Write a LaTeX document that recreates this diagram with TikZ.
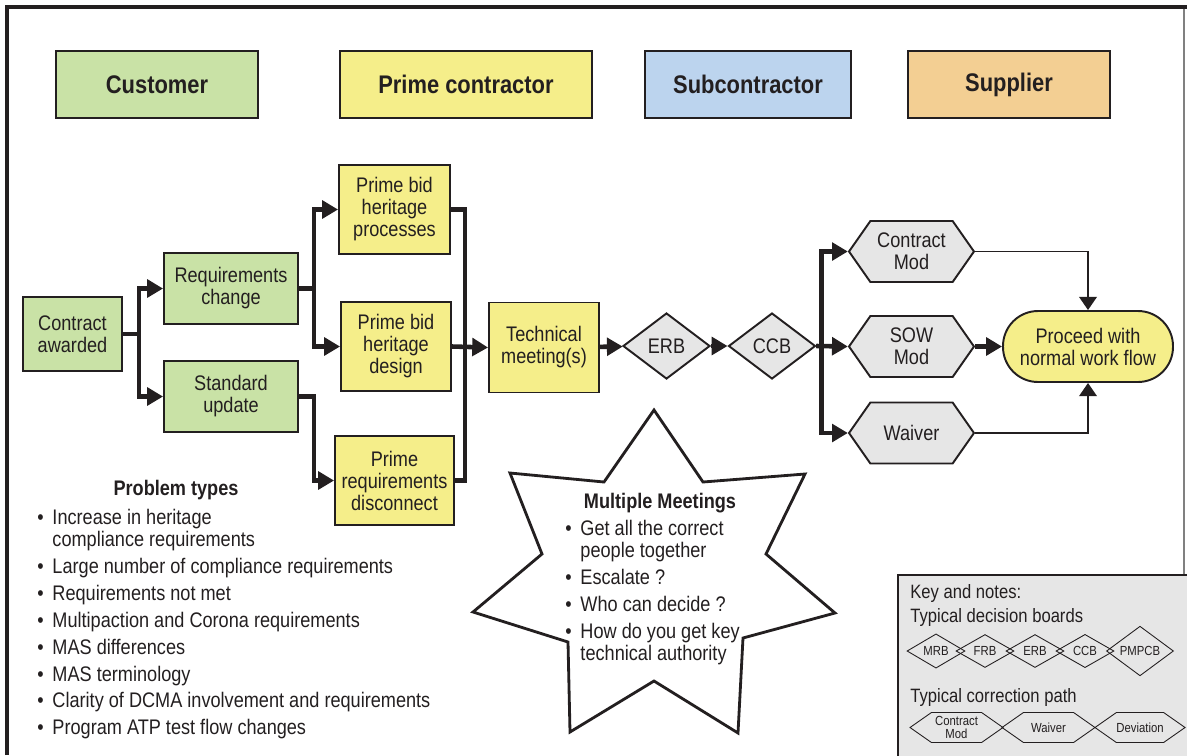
\documentclass[tikz,border=0pt]{standalone}
\usepackage{fontspec}
\setmainfont{Liberation Sans}[FakeStretch=0.86]
\usepackage{tikz}
\usetikzlibrary{arrows.meta,positioning,calc,shapes.geometric,shapes.symbols}
\definecolor{custgreen}{RGB}{201,226,166}
\definecolor{primeyellow}{RGB}{245,238,138}
\definecolor{subblue}{RGB}{188,212,238}
\definecolor{supplorange}{RGB}{243,207,147}
\definecolor{boardgray}{RGB}{230,230,230}
\definecolor{inkdark}{RGB}{35,31,32}

\begin{document}
\begin{tikzpicture}[x=0.02cm,y=-0.02cm,text=inkdark,font=\fontsize{12}{12.5}\selectfont,
  head/.style={draw=inkdark,line width=1pt,minimum height=1.34cm,font=\fontsize{14.5}{16}\selectfont\bfseries},
  box/.style={draw=inkdark,line width=1.1pt,align=center,inner sep=1pt},
  board/.style={diamond,draw=inkdark,line width=1.1pt,fill=boardgray,minimum width=1.74cm,minimum height=1.32cm,inner sep=0pt},
  hexa/.style={signal,signal to=west and east,signal pointer angle=110,draw=inkdark,line width=1.1pt,fill=boardgray,
    minimum width=2.5cm,minimum height=1.22cm,align=center,inner sep=1pt},
  keyboard/.style={diamond,draw=inkdark,line width=0.5pt,minimum width=1.16cm,minimum height=0.66cm,inner sep=0pt,font=\fontsize{7.5}{8}\selectfont},
  keyhexa/.style={signal,signal to=west and east,signal pointer angle=70,draw=inkdark,line width=0.5pt,
    minimum width=1.86cm,minimum height=0.6cm,align=center,inner sep=0pt,font=\fontsize{7.5}{7.5}\selectfont},
  flow/.style={-{Triangle[length=9pt,width=10pt]},line width=2.6pt,draw=inkdark},
  bar/.style={line width=2.6pt,draw=inkdark},
  link/.style={-{Triangle[length=7.5pt,width=10pt]},line width=1.1pt,draw=inkdark}]
\useasboundingbox (0,0) rectangle (1187,755);
% frame
\draw[gray,line width=0.6pt] (1184,7) -- (1184,755);
\draw[inkdark,line width=2.4pt] (7,755) -- (7,7) -- (1187,7);

% column headers
\node[head,fill=custgreen,minimum width=4.04cm] (cust) at (157,84.5) {Customer};
\node[head,fill=primeyellow,minimum width=5.04cm] (prime) at (466,84.5) {Prime contractor};
\node[head,fill=subblue,minimum width=4.12cm] (sub) at (748,84.5) {Subcontractor};
\node[head,fill=supplorange,minimum width=4.04cm] (supp) at (1009,84.5) {Supplier};

% customer side
\node[box,fill=custgreen,minimum width=1.98cm,minimum height=1.48cm] (award) at (72.5,334) {Contract\\awarded};
\node[box,fill=custgreen,minimum width=2.68cm,minimum height=1.42cm] (reqchg) at (231,288.5) {Requirements\\change};
\node[box,fill=custgreen,minimum width=2.68cm,minimum height=1.42cm] (stdupd) at (231,396.5) {Standard\\update};

% prime contractor side
\node[box,fill=primeyellow,minimum width=2.22cm,minimum height=1.78cm] (pbproc) at (394.5,209.5) {Prime bid\\heritage\\processes};
\node[box,fill=primeyellow,minimum width=2.2cm,minimum height=1.78cm] (pbdes) at (396,346.5) {Prime bid\\heritage\\design};
\node[box,fill=primeyellow,minimum width=2.38cm,minimum height=1.78cm] (preqd) at (394.5,480.5) {Prime\\requirements\\disconnect};
\node[box,fill=primeyellow,minimum width=2.2cm,minimum height=1.8cm] (tech) at (544,347.5) {Technical\\meeting(s)};

% boards and correction paths
\node[board] (erb) at (666.5,346) {ERB};
\node[board] (ccb) at (772,346) {CCB};
\node[hexa] (cmod) at (911.5,251.5) {Contract\\Mod};
\node[hexa] (smod) at (911.5,346.5) {SOW\\Mod};
\node[hexa] (waiv) at (911.5,433) {Waiver};
\node[draw=inkdark,line width=1.1pt,fill=primeyellow,rounded corners=0.7cm,minimum width=3.4cm,minimum height=1.42cm,
  align=center,inner sep=1pt] (proc) at (1088,346.5) {Proceed with\\normal work flow};

% connectors
\draw[flow] (award.east) -- ++(16,0) |- (reqchg.west);
\draw[flow] (award.east) -- ++(16,0) |- (stdupd.west);
\draw[flow] (reqchg.east) -- ++(15,0) |- (pbproc.west);
\draw[flow] (reqchg.east) -- ++(15,0) |- (pbdes.west);
\draw[flow] (stdupd.east) -- ++(15,0) |- (preqd.west);
\draw[bar] (pbproc.east) -- ++(14,0) |- (preqd.east);
\draw[flow] (pbdes.east) -- (tech.west);
\draw[flow] (tech) -- (erb);
\draw[flow] (erb) -- (ccb);
\draw[flow] (ccb.east) -- ++(5,0) |- (cmod.west);
\draw[flow] (ccb.east) -- (smod.west);
\draw[flow] (ccb.east) -- ++(5,0) |- (waiv.west);
\draw[link] (cmod.east) -| (proc.north);
\draw[flow] (smod.east) -- (proc.west);
\draw[link] (waiv.east) -| (proc.south);

% problem types
\node[font=\fontsize{12}{12.5}\selectfont\bfseries] (probtitle) at (176,490) {Problem types};
\node[anchor=north west,inner sep=0pt] (problist) at (37,509) {\begin{tabular}{@{}l@{\hspace{5pt}}l@{}}
  \textbullet & Increase in heritage\\
   & compliance requirements\\[2.8pt]
  \textbullet & Large number of compliance requirements\\[2.8pt]
  \textbullet & Requirements not met\\[2.8pt]
  \textbullet & Multipaction and Corona requirements\\[2.8pt]
  \textbullet & MAS differences\\[2.8pt]
  \textbullet & MAS terminology\\[2.8pt]
  \textbullet & Clarity of DCMA involvement and requirements\\[2.8pt]
  \textbullet & Program ATP test flow changes
\end{tabular}};

% multiple meetings star
\draw[inkdark,line width=1.6pt,fill=white] (654,410) -- (703,482) -- (805,474) -- (766,554) -- (835,613) -- (743,638)
  -- (738,733) -- (654,681) -- (570,732) -- (568,642) -- (473,612) -- (542,554) -- (510,473) -- (604,482) -- cycle;
\node[font=\fontsize{12}{12.5}\selectfont\bfseries] (meettitle) at (660,503) {Multiple Meetings};
\node[anchor=north west,inner sep=0pt] (meetlist) at (565,520) {\begin{tabular}{@{}l@{\hspace{5pt}}l@{}}
  \textbullet & Get all the correct\\
   & people together\\[2.8pt]
  \textbullet & Escalate ?\\[2.8pt]
  \textbullet & Who can decide ?\\[2.8pt]
  \textbullet & How do you get key\\
   & technical authority
\end{tabular}};

% key and notes
\draw[inkdark,line width=0.8pt,fill=boardgray] (898,575) rectangle (1195,765);
\node[anchor=west,inner sep=0pt,font=\fontsize{11}{12}\selectfont] (keytitle) at (910,593) {Key and notes:};
\node[anchor=west,inner sep=0pt,font=\fontsize{11}{12}\selectfont] (keyboards) at (910,617) {Typical decision boards};
\node[keyboard] (kmrb) at (936,651) {MRB};
\node[keyboard] (kfrb) at (985,651) {FRB};
\node[keyboard] (kerb) at (1035,651) {ERB};
\node[keyboard] (kccb) at (1085,651) {CCB};
\node[keyboard,minimum width=1.34cm] (kpmpcb) at (1140,651) {PMPCB};
\node[anchor=west,inner sep=0pt,font=\fontsize{11}{12}\selectfont] (keypath) at (910,697) {Typical correction path};
\node[keyhexa] (kcmod) at (956.5,727.5) {Contract\\Mod};
\node[keyhexa] (kwaiv) at (1048.5,727.5) {Waiver};
\node[keyhexa,minimum width=1.8cm] (kdev) at (1140,727.5) {Deviation};
\end{tikzpicture}
\end{document}
